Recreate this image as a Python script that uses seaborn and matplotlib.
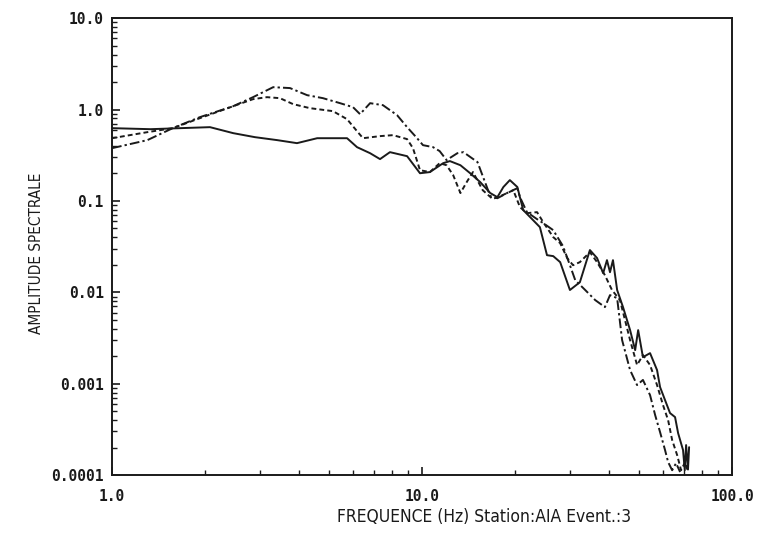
# Spectral amplitude vs frequency, three components (log-log)
import numpy as np
import pandas as pd
import seaborn as sns
import matplotlib
matplotlib.use("Agg")
import matplotlib.pyplot as plt
from matplotlib.ticker import FixedLocator, NullFormatter

# solid trace
freq_a = [1.0, 1.33, 1.66, 2.07, 2.46, 2.89, 3.41, 3.95, 4.59, 5.73, 6.17, 6.80, 7.32, 7.88,
          8.95, 9.85, 10.6, 11.7, 12.3, 13.3, 14.3, 15.4, 16.6, 17.5, 18.3, 19.2, 20.3, 21.2,
          22.8, 24.0, 25.3, 26.5, 27.9, 30.0, 32.3, 34.8, 36.7, 38.4, 39.5, 40.4, 41.3, 42.6,
          44.5, 46.9, 48.7, 49.8, 51.6, 54.4, 57.3, 58.6, 60.8, 63.1, 65.5, 67.0, 69.5, 70.4,
          71.1, 72.1, 72.7]
amp_a = [0.626, 0.610, 0.626, 0.642, 0.552, 0.499, 0.463, 0.429, 0.486, 0.486, 0.388, 0.333,
         0.287, 0.342, 0.309, 0.201, 0.207, 0.259, 0.273, 0.246, 0.201, 0.161, 0.122, 0.110,
         0.142, 0.169, 0.142, 0.0795, 0.0618, 0.0517, 0.0255, 0.0249, 0.0214, 0.0106, 0.0129,
         0.0290, 0.0237, 0.0162, 0.0225, 0.0166, 0.0225, 0.0106, 0.00689, 0.00386, 0.00233,
         0.00386, 0.00195, 0.00216, 0.00141, 0.000918, 0.000662, 0.000477, 0.000431, 0.000288,
         0.000188, 0.000113, 0.000213, 0.000115, 0.000202]

# short-dash trace
freq_b = [1.0, 1.30, 1.57, 1.92, 2.46, 2.85, 3.16, 3.48, 3.84, 4.35, 5.16, 5.73, 6.17, 6.45,
          7.32, 8.06, 8.95, 9.35, 9.85, 10.6, 11.4, 12.0, 12.6, 13.3, 14.0, 14.6, 15.7, 16.9,
          17.9, 19.7, 20.7, 21.8, 23.5, 24.6, 26.5, 27.9, 29.4, 30.7, 32.3, 34.8, 36.7, 38.9,
          41.0, 43.5, 46.9, 49.4, 51.6, 54.4, 57.3, 59.9, 62.2, 64.1, 66.5, 68.5, 70.6, 72.1]
amp_b = [0.486, 0.566, 0.626, 0.805, 1.089, 1.300, 1.367, 1.333, 1.146, 1.036, 0.961, 0.785,
         0.580, 0.486, 0.512, 0.525, 0.475, 0.378, 0.217, 0.207, 0.259, 0.246, 0.192, 0.122,
         0.165, 0.207, 0.131, 0.105, 0.113, 0.131, 0.0855, 0.0735, 0.0754, 0.0586, 0.0402,
         0.0345, 0.0237, 0.0198, 0.0214, 0.0275, 0.0214, 0.0154, 0.0106, 0.00822, 0.00300,
         0.00160, 0.00206, 0.00160, 0.000966, 0.000583, 0.000400, 0.000242, 0.000166,
         0.000113, 0.000139, 0.000108]

# dash-dot trace
freq_c = [1.0, 1.30, 1.57, 1.92, 2.46, 2.85, 3.31, 3.75, 4.26, 4.79, 5.44, 5.99, 6.31, 6.80,
          7.48, 8.31, 8.95, 9.64, 10.07, 10.85, 11.4, 12.0, 13.0, 13.6, 15.1, 15.7, 16.6, 17.5,
          18.8, 20.3, 20.7, 21.8, 23.5, 24.6, 26.5, 28.5, 30.0, 31.2, 33.6, 36.2, 38.9, 40.4,
          42.6, 44.2, 46.9, 49.4, 51.6, 54.4, 56.5, 58.6, 60.8, 62.2, 64.1, 66.0, 68.0]
amp_c = [0.378, 0.463, 0.626, 0.826, 1.089, 1.367, 1.758, 1.719, 1.437, 1.333, 1.175, 1.062,
         0.891, 1.175, 1.117, 0.868, 0.642, 0.486, 0.408, 0.388, 0.351, 0.280, 0.333, 0.342,
         0.266, 0.187, 0.113, 0.107, 0.122, 0.138, 0.110, 0.0754, 0.0632, 0.0572, 0.0479,
         0.0320, 0.0198, 0.0136, 0.0106, 0.00822, 0.00689, 0.00932, 0.00864, 0.00300, 0.00141,
         0.000966, 0.00110, 0.000750, 0.000453, 0.000295, 0.000188, 0.000139, 0.000113,
         0.000135, 0.000108]

y_ticks = [0.0001, 0.001, 0.01, 0.1, 1.0, 10.0]
y_labels = ["0.0001", "0.001", "0.01", "0.1", "1.0", "10.0"]
x_ticks = [1.0, 10.0, 100.0]
x_labels = ["1.0", "10.0", "100.0"]

df = pd.concat([
    pd.DataFrame({"freq": freq_a, "amp": amp_a, "trace": "a"}),
    pd.DataFrame({"freq": freq_b, "amp": amp_b, "trace": "b"}),
    pd.DataFrame({"freq": freq_c, "amp": amp_c, "trace": "c"}),
])

sns.set_style("ticks")
fig = plt.figure(figsize=(7.57, 5.35), dpi=100)
ax = fig.add_axes([0.148, 0.112, 0.819, 0.854])

sns.lineplot(data=df, x="freq", y="amp", style="trace",
             dashes={"a": "", "b": (2.5, 1.6), "c": (5, 1.6, 1.2, 1.6)},
             color="#1a1a1a", linewidth=1.4, legend=False, ax=ax, estimator=None)

ax.set_xscale("log")
ax.set_yscale("log")
ax.set_xlim(1, 100)
ax.set_ylim(0.0001, 10)

tick_font = dict(family="DejaVu Sans Mono", weight="bold", size=10.5)
ax.set_xticks(x_ticks)
ax.set_xticklabels(x_labels, fontdict=tick_font)
ax.set_yticks(y_ticks)
ax.set_yticklabels(y_labels, fontdict=tick_font)
minor_x = [m * 10 ** k for k in range(0, 2) for m in range(2, 10)]
minor_y = [m * 10.0 ** k for k in range(-4, 1) for m in range(2, 10)]
ax.xaxis.set_minor_locator(FixedLocator(minor_x))
ax.yaxis.set_minor_locator(FixedLocator(minor_y))
ax.xaxis.set_minor_formatter(NullFormatter())
ax.yaxis.set_minor_formatter(NullFormatter())
ax.tick_params(which="major", direction="in", length=6, width=1.2, colors="#1a1a1a", pad=6)
ax.tick_params(which="minor", direction="in", length=3.5, width=1.0, colors="#1a1a1a")
ax.tick_params(axis="x", which="major", pad=10)

for s in ax.spines.values():
    s.set_linewidth(1.4)
    s.set_color("#1a1a1a")

ax.set_xlabel("FREQUENCE (Hz) Station:AIA Event.:3", family="DejaVu Sans",
              stretch="condensed", size=12.5, color="#1a1a1a")
ax.xaxis.set_label_coords(0.60, -0.072)
ax.set_ylabel("AMPLITUDE SPECTRALE", family="DejaVu Sans",
              stretch="condensed", size=11, color="#1a1a1a")
ax.yaxis.set_label_coords(-0.11, 0.486)

fig.savefig("out.png", dpi=100)
